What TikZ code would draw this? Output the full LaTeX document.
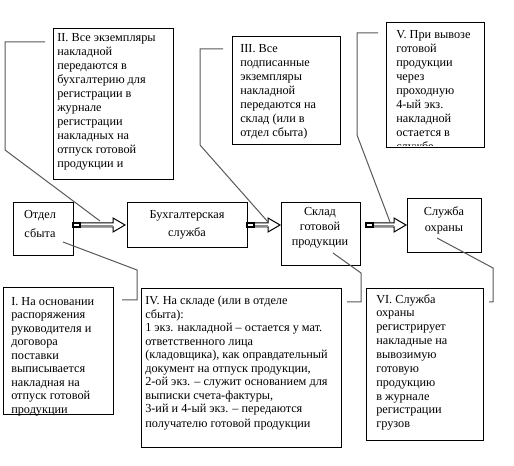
\documentclass[tikz,border=0pt]{standalone}
\usepackage{fontspec}
\setmainfont{Liberation Serif}
\usetikzlibrary{fit}
\newcommand\blkarrow[4]{%
  \coordinate (#1s) at (#2,#4);
  \coordinate (#1e) at (#3,#4);
  \draw[line width=0.75pt,fill=white] (#2+7,#4-2) -- (#3-12,#4-2) -- (#3-12,#4-7) -- (#3,#4) -- (#3-12,#4+7) -- (#3-12,#4+2) -- (#2+7,#4+2) -- cycle;
  \draw[black!45,line width=1.3pt] (#2+8,#4+0.9) -- (#3-12,#4+0.9);
  \draw[line width=1pt] (#2,#4-2) rectangle (#2+7,#4+2);
}
\begin{document}
\begin{tikzpicture}[x=0.75pt,y=-0.75pt,
  box/.style={draw=black,line width=0.75pt,inner sep=0pt},
  txt/.style={anchor=north west,inner sep=0pt,align=left,font=\fontsize{9.2}{10.5}\selectfont},
  ctxt/.style={inner sep=0pt,align=center,font=\fontsize{9.2}{12}\selectfont},
  callout/.style={draw=black!65,line width=0.75pt},
]
\useasboundingbox[fill=white] (0,0) rectangle (514,466);

% main flow boxes
\node[box,fit={(13,203) (73,256)}] (otd) {};
\node[ctxt,font=\fontsize{9.2}{14.5}\selectfont] (otdt) at (40,224) {Отдел\\сбыта};
\node[box,fit={(127,203) (247,248)}] (buh) {};
\node[ctxt,font=\fontsize{9.2}{13.2}\selectfont] (buht) at (187,225) {Бухгалтерская\\служба};
\node[box,fit={(281,203) (360,266)}] (skl) {};
\node[ctxt,font=\fontsize{9.2}{11.2}\selectfont] (sklt) at (320,228) {Склад\\готовой\\продукции};
\node[box,fit={(407,199) (481,253)}] (ohr) {};
\node[ctxt] (ohrt) at (444,220) {Служба\\охраны};

% arrows
\blkarrow{a1}{73}{125}{225}
\blkarrow{a2}{247}{280}{225}
\blkarrow{a3}{366}{406}{225}

% note boxes
\node[box,fit={(53,29) (173,180)}] (n2) {};
\node[txt] (n2t) at (57,33) {II. Все экземпляры\\накладной\\передаются в\\бухгалтерию для\\регистрации в\\журнале\\регистрации\\накладных на\\отпуск готовой\\продукции и};

\node[box,fit={(232,37) (340,145)}] (n3) {};
\node[txt] (n3t) at (240,44) {III. Все\\подписанные\\экземпляры\\накладной\\передаются на\\склад (или в\\отдел сбыта)};

\node[box,fit={(386,23) (484,148)}] (n5) {};
\begin{scope}
  \clip (386.5,23.5) rectangle (483.5,146);
  \node[txt] (n5t) at (396,30) {V. При вывозе\\готовой\\продукции\\через\\проходную\\4-ый экз.\\накладной\\остается в\\службе};
\end{scope}

\node[box,fit={(3,288) (113,415)}] (n1) {};
\node[txt,font=\fontsize{9.2}{10.1}\selectfont] (n1t) at (11,297) {I. На основании\\распоряжения\\руководителя и\\договора\\поставки\\выписывается\\накладная на\\отпуск готовой\\продукции};

\node[box,fit={(141,289) (341,447)}] (n4) {};
\node[txt,font=\fontsize{9.2}{10.1}\selectfont] (n4t) at (145,296) {IV. На складе (или в отделе\\сбыта):\\1 экз. накладной – остается у мат.\\ответственного лица\\(кладовщика), как оправдательный\\документ на отпуск продукции,\\2-ой экз. – служит основанием для\\выписки счета-фактуры,\\3-ий и 4-ый экз. – передаются\\[1.5pt]получателю готовой продукции};

\node[box,fit={(366,289) (483,440)}] (n6) {};
\node[txt,font=\fontsize{9.2}{10.4}\selectfont] (n6t) at (376,294) {VI. Служба\\охраны\\регистрирует\\накладные на\\вывозимую\\готовую\\продукцию\\в журнале\\регистрации\\грузов};

% callout lines
\coordinate (c2a) at (45,42);
\coordinate (c2b) at (5,42);
\coordinate (c2c) at (5,150);
\coordinate (c2d) at (100,221);
\draw[callout] (c2a) -- (c2b) -- (c2c) -- (c2d);

\coordinate (c3a) at (223,49);
\coordinate (c3b) at (200,49);
\coordinate (c3c) at (200,145);
\coordinate (c3d) at (268,222);
\draw[callout] (c3a) -- (c3b) -- (c3c) -- (c3d);

\coordinate (c5a) at (378,33);
\coordinate (c5b) at (357,33);
\coordinate (c5c) at (357,135);
\coordinate (c5d) at (390,222);
\draw[callout] (c5a) -- (c5b) -- (c5c) -- (c5d);

\coordinate (c1a) at (63,242);
\coordinate (c1b) at (137,270);
\coordinate (c1c) at (137,300);
\coordinate (c1d) at (122,300);
\draw[callout] (c1a) -- (c1b) -- (c1c) -- (c1d);

\coordinate (c4a) at (333,253);
\coordinate (c4b) at (361,273);
\coordinate (c4c) at (361,302);
\coordinate (c4d) at (347,302);
\draw[callout] (c4a) -- (c4b) -- (c4c) -- (c4d);

\coordinate (c6a) at (437,238);
\coordinate (c6b) at (493,268);
\coordinate (c6c) at (493,302);
\coordinate (c6d) at (489,302);
\draw[callout] (c6a) -- (c6b) -- (c6c) -- (c6d);
\end{tikzpicture}
\end{document}
